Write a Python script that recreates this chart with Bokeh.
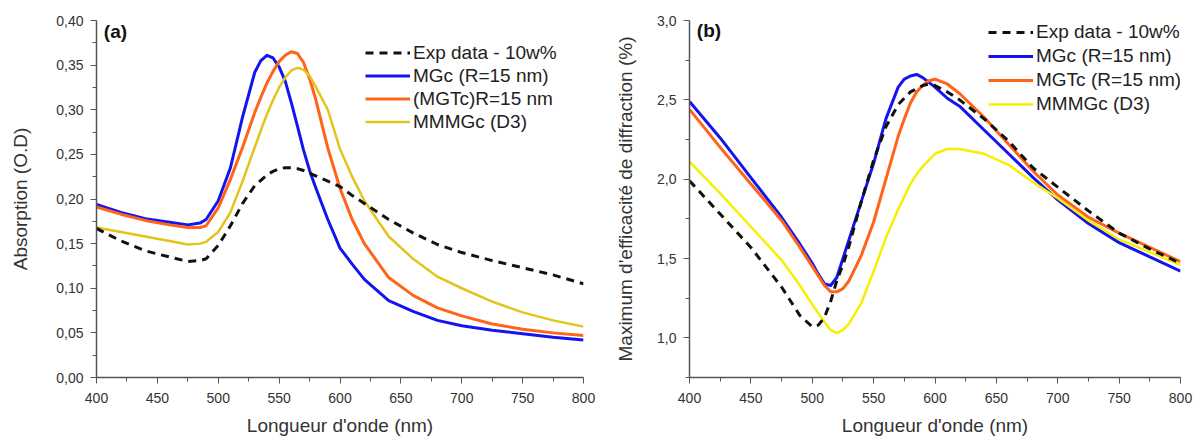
from bokeh.plotting import figure
from bokeh.layouts import row
from bokeh.models import (Range1d, FixedTicker, CustomJSTickFormatter, Legend, LegendItem, Label)
from bokeh.embed import file_html
from bokeh.resources import INLINE

FONT = "Liberation Sans"

# ---------------- Panel (a): absorption ----------------
wl_a = [400, 420, 440, 460, 475, 485, 490, 500, 510, 520, 530, 535, 540, 545, 550, 555, 560,
        565, 570, 575, 580, 590, 600, 610, 620, 640, 660, 680, 700, 725, 750, 775, 800]
exp_a = [0.167, 0.153, 0.142, 0.135, 0.130, 0.131, 0.133, 0.148, 0.170, 0.195, 0.215, 0.221,
         0.227, 0.231, 0.234, 0.235, 0.235, 0.234, 0.232, 0.229, 0.226, 0.220, 0.214, 0.204,
         0.195, 0.177, 0.162, 0.149, 0.140, 0.131, 0.123, 0.115, 0.105]
mgc_a = [0.194, 0.185, 0.178, 0.174, 0.171, 0.173, 0.177, 0.198, 0.235, 0.292, 0.342, 0.355,
         0.361, 0.358, 0.348, 0.332, 0.308, 0.282, 0.255, 0.232, 0.213, 0.177, 0.145, 0.127,
         0.110, 0.086, 0.074, 0.064, 0.058, 0.053, 0.049, 0.045, 0.042]
mgtc_a = [0.191, 0.183, 0.176, 0.171, 0.168, 0.168, 0.170, 0.190, 0.222, 0.258, 0.297, 0.314,
          0.330, 0.343, 0.354, 0.361, 0.365, 0.363, 0.353, 0.335, 0.312, 0.257, 0.212, 0.177,
          0.150, 0.112, 0.092, 0.078, 0.069, 0.060, 0.054, 0.050, 0.047]
mmmgc_a = [0.168, 0.163, 0.158, 0.153, 0.149, 0.150, 0.152, 0.163, 0.185, 0.220, 0.258, 0.277,
           0.295, 0.311, 0.325, 0.336, 0.344, 0.347, 0.345, 0.338, 0.326, 0.300, 0.256, 0.225,
           0.198, 0.158, 0.133, 0.113, 0.100, 0.085, 0.073, 0.064, 0.057]
labels_a = ["Exp data - 10w%", "MGc (R=15 nm)", "(MGTc)R=15 nm", "MMMGc (D3)"]

# ---------------- Panel (b): diffraction efficiency ----------------
wl_b = [400, 425, 450, 475, 490, 500, 505, 510, 515, 520, 525, 530, 540, 550, 560, 570, 575,
        580, 585, 590, 595, 600, 610, 620, 640, 660, 680, 700, 725, 750, 775, 800]
exp_b = [1.99, 1.78, 1.57, 1.32, 1.14, 1.07, 1.08, 1.13, 1.23, 1.36, 1.46, 1.58, 1.86, 2.12,
         2.33, 2.47, 2.51, 2.55, 2.57, 2.59, 2.60, 2.59, 2.55, 2.50, 2.38, 2.24, 2.07, 1.95,
         1.80, 1.66, 1.56, 1.47]
mgc_b = [2.49, 2.26, 2.01, 1.76, 1.59, 1.47, 1.40, 1.34, 1.33, 1.38, 1.50, 1.62, 1.86, 2.10,
         2.38, 2.58, 2.63, 2.65, 2.66, 2.64, 2.61, 2.58, 2.51, 2.46, 2.31, 2.16, 2.01, 1.87,
         1.72, 1.60, 1.51, 1.42]
mgtc_b = [2.44, 2.20, 1.97, 1.74, 1.57, 1.45, 1.39, 1.33, 1.29, 1.29, 1.31, 1.36, 1.52, 1.73,
          2.00, 2.27, 2.38, 2.48, 2.55, 2.59, 2.62, 2.63, 2.60, 2.54, 2.39, 2.22, 2.05, 1.90,
          1.76, 1.66, 1.57, 1.48]
mmmgc_b = [2.11, 1.91, 1.70, 1.49, 1.33, 1.21, 1.155, 1.10, 1.05, 1.03, 1.05, 1.09, 1.22, 1.42,
           1.63, 1.81, 1.89, 1.97, 2.03, 2.08, 2.12, 2.16, 2.19, 2.19, 2.16, 2.09, 1.98, 1.88,
           1.74, 1.62, 1.54, 1.46]
labels_b = ["Exp data - 10w%", "MGc (R=15 nm)", "MGTc (R=15 nm)", "MMMGc (D3)"]

x_major = [400, 450, 500, 550, 600, 650, 700, 750, 800]
x_minor = [425, 475, 525, 575, 625, 675, 725, 775]
ya_major = [0.0, 0.05, 0.10, 0.15, 0.20, 0.25, 0.30, 0.35, 0.40]
ya_minor = [0.025, 0.075, 0.125, 0.175, 0.225, 0.275, 0.325, 0.375]
yb_major = [1.0, 1.5, 2.0, 2.5, 3.0]
yb_minor = [0.75, 1.25, 1.75, 2.25, 2.75]

BLUE = "#1414f0"
ORANGE = "#ff6418"
GOLD = "#e3c31c"
YELLOW = "#f4f000"


def style(p, ylab, yticks, yminor, ndec):
    p.outline_line_color = None
    p.xgrid.grid_line_color = None
    p.ygrid.grid_line_color = None
    p.xaxis.ticker = FixedTicker(ticks=x_major, minor_ticks=x_minor)
    p.yaxis.ticker = FixedTicker(ticks=yticks, minor_ticks=yminor)
    p.yaxis.formatter = CustomJSTickFormatter(
        code="return tick.toFixed(%d).replace('.', ',');" % ndec)
    for ax in (p.xaxis[0], p.yaxis[0]):
        ax.axis_line_color = "#555555"
        ax.axis_line_width = 1.5
        ax.major_tick_line_color = "#555555"
        ax.minor_tick_line_color = "#555555"
        ax.major_tick_out = 6
        ax.major_tick_in = 0
        ax.minor_tick_out = 4
        ax.minor_tick_in = 0
        ax.major_label_text_font = FONT
        ax.major_label_text_font_size = "14px"
        ax.major_label_text_color = "#333333"
        ax.axis_label_text_font = FONT
        ax.axis_label_text_font_size = "19px"
        ax.axis_label_text_font_style = "normal"
        ax.axis_label_text_color = "#333333"
    p.xaxis.major_label_standoff = 9
    p.yaxis.major_label_standoff = 7
    p.xaxis.axis_label = "Longueur d'onde (nm)"
    p.xaxis.axis_label_standoff = 9
    p.yaxis.axis_label = ylab


def make(series, labels, colors, widths, ymin, ymax, ylab, yticks, yminor, ndec,
         w, bl, br, tag, tag_xy, leg_loc, row_h):
    p = figure(width=w, height=438, output_backend="svg", toolbar_location=None,
               x_range=Range1d(400, 800), y_range=Range1d(ymin, ymax),
               min_border_left=bl, min_border_right=br, min_border_top=20,
               min_border_bottom=58)
    style(p, ylab, yticks, yminor, ndec)
    wl = series[0]
    items = []
    for i, ys in enumerate(series[1:]):
        if i == 0:
            r = p.line(wl, ys, line_color="#111111", line_width=3, line_dash="8 6")
        else:
            r = p.line(wl, ys, line_color=colors[i], line_width=widths[i],
                       line_join="round")
        items.append((labels[i], r))
    # draw exp data on top
    rs = list(p.renderers)
    p.renderers = rs[1:] + rs[:1]
    leg = Legend(items=[LegendItem(label=l, renderers=[r]) for l, r in items],
                 location=leg_loc, border_line_color=None, background_fill_alpha=0,
                 padding=0, spacing=0, margin=0, label_text_font=FONT,
                 label_text_font_size="19px", label_text_color="#222222",
                 glyph_width=45, glyph_height=row_h, label_height=row_h,
                 label_standoff=3)
    p.add_layout(leg)
    p.add_layout(Label(x=tag_xy[0], y=tag_xy[1], text=tag, text_font=FONT,
                       text_font_size="19px", text_font_style="bold",
                       text_color="#111111", text_baseline="middle"))
    return p


pa = make([wl_a, exp_a, mgc_a, mgtc_a, mmmgc_a], labels_a,
          ["#111111", BLUE, ORANGE, GOLD], [3, 3, 3, 2.5], 0.0, 0.40,
          "Absorption (O.D)", ya_major, ya_minor, 2,
          600, 96, 17, "(a)", (406, 0.388), (269, 244), 23)
pa.yaxis.axis_label_standoff = 22

pb = make([wl_b, exp_b, mgc_b, mgtc_b, mmmgc_b], labels_b,
          ["#111111", BLUE, ORANGE, YELLOW], [3, 3, 3, 2.5], 0.75, 3.0,
          "Maximum d'efficacité de diffraction (%)", yb_major, yb_minor, 1,
          595, 89, 15, "(b)", (406, 2.94), (299, 261), 24)
pb.yaxis.axis_label_standoff = 18

layout = row(pa, pb)
open("out.html", "w").write(file_html(layout, INLINE))
